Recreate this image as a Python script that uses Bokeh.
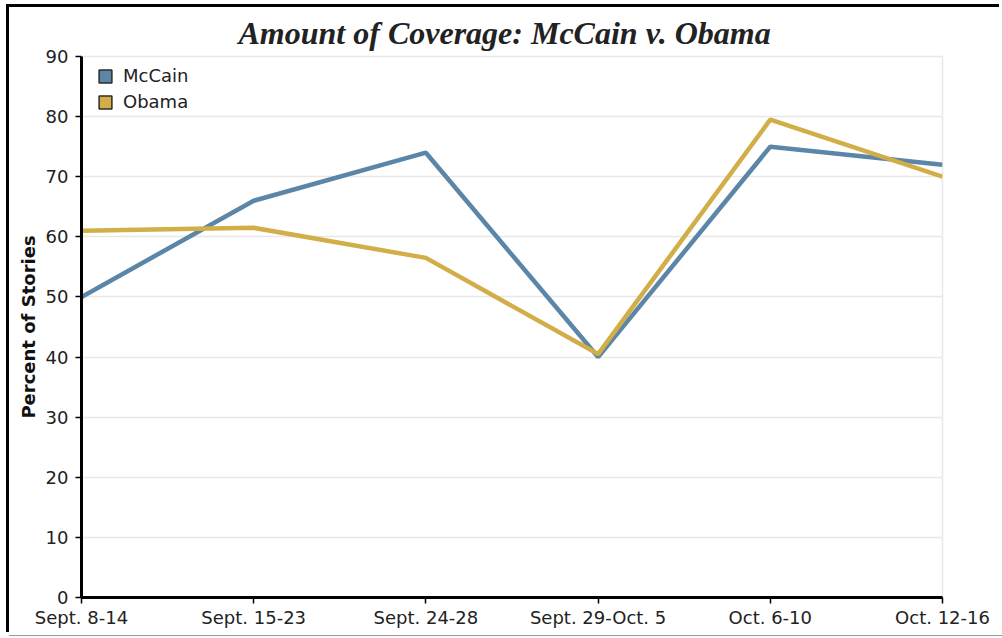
from bokeh.plotting import figure
from bokeh.models import Range1d, FixedTicker, Legend, LegendItem, ColumnDataSource
from bokeh.embed import file_html
from bokeh.resources import INLINE

periods = ["Sept. 8-14", "Sept. 15-23", "Sept. 24-28", "Sept. 29-Oct. 5", "Oct. 6-10", "Oct. 12-16"]
mccain = [50, 66, 74, 40, 75, 72]
obama = [61, 61.5, 56.5, 40.5, 79.5, 70]
y_ticks = [0, 10, 20, 30, 40, 50, 60, 70, 80, 90]

MC_COLOR = "#5b86a7"
OB_COLOR = "#d2ae49"

x = list(range(len(periods)))

# figure placed at (9, 7) on the page; page frame drawn as outer shadows
p = figure(width=993, height=628, output_backend="svg", toolbar_location=None,
           x_range=Range1d(0, len(periods) - 1), y_range=Range1d(0, 90),
           min_border_left=72, min_border_right=60, min_border_top=49, min_border_bottom=38)
p.styles = {"margin-left": "9px", "margin-top": "7px",
            "box-shadow": "-3px -3px 0 0 black, 0 1px 0 0 #999999"}

p.title.text = "Amount of Coverage: McCain v. Obama"
p.title.align = "left"
p.title.offset = 157
p.title.vertical_align = "bottom"
p.title.text_font = "Liberation Serif"
p.title.text_font_style = "bold italic"
p.title.text_font_size = "32px"
p.title.text_color = "#222222"
p.title.standoff = 11

for ax in (p.xaxis[0], p.yaxis[0]):
    ax.axis_line_width = 3
    ax.axis_line_color = "black"
    ax.major_tick_line_width = 1.5
    ax.major_tick_out = 6
    ax.major_tick_in = 0
    ax.minor_tick_out = 0
    ax.minor_tick_in = 0
    ax.major_label_text_font = "DejaVu Sans"
    ax.major_label_text_font_size = "18px"
    ax.major_label_text_color = "#222222"

p.xaxis.ticker = FixedTicker(ticks=x)
p.xaxis.major_label_overrides = {i: s for i, s in enumerate(periods)}
p.xaxis.major_label_standoff = 3
p.yaxis.ticker = FixedTicker(ticks=y_ticks)
p.yaxis.major_label_standoff = 7
p.yaxis.axis_label = "Percent of Stories"
p.yaxis.axis_label_text_font = "DejaVu Sans"
p.yaxis.axis_label_text_font_style = "bold"
p.yaxis.axis_label_text_font_size = "18px"
p.yaxis.axis_label_text_color = "#111111"
p.yaxis.axis_label_standoff = 4

p.xgrid.visible = False
p.ygrid.grid_line_color = "#e8e8e8"
p.ygrid.grid_line_width = 1.5
p.outline_line_color = "#e8e8e8"
p.outline_line_width = 1.5

p.line(x, mccain, line_color=MC_COLOR, line_width=4.5)
p.line(x, obama, line_color=OB_COLOR, line_width=4.5)

nan = float("nan")
key_src = ColumnDataSource(dict(left=[nan], right=[nan], top=[nan], bottom=[nan]))
r_mc = p.quad(left="left", right="right", top="top", bottom="bottom", source=key_src,
              fill_color=MC_COLOR, line_color="#2b2b2b", line_width=1.5)
r_ob = p.quad(left="left", right="right", top="top", bottom="bottom", source=key_src,
              fill_color=OB_COLOR, line_color="#2b2b2b", line_width=1.5)

legend = Legend(items=[LegendItem(label="McCain", renderers=[r_mc]),
                       LegendItem(label="Obama", renderers=[r_ob])],
                location=(16, 485), margin=0, padding=0,
                border_line_alpha=0, background_fill_alpha=0,
                glyph_width=16, glyph_height=16, label_standoff=10, spacing=5,
                label_height=21,
                label_text_font="DejaVu Sans", label_text_font_size="18px",
                label_text_color="#222222")
p.add_layout(legend)

open("out.html", "w").write(file_html(p, INLINE))
